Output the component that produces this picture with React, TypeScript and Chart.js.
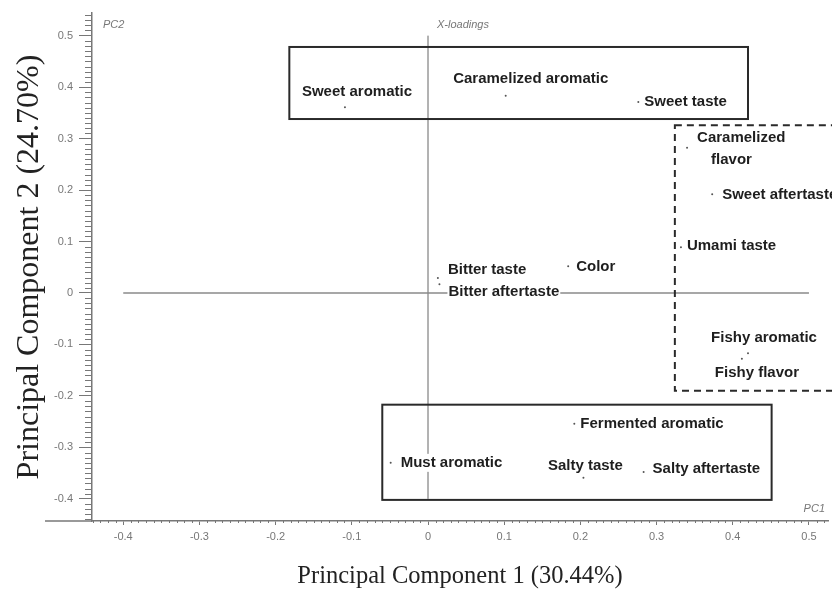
import React, { useEffect, useRef } from "react";
import { Chart, registerables } from "chart.js";

Chart.register(...registerables);

const attributes = [
  "Sweet aromatic",
  "Caramelized aromatic",
  "Sweet taste",
  "Caramelized\nflavor",
  "Sweet aftertaste",
  "Umami taste",
  "Bitter taste",
  "Bitter aftertaste",
  "Color",
  "Fishy aromatic",
  "Fishy flavor",
  "Fermented aromatic",
  "Must aromatic",
  "Salty taste",
  "Salty aftertaste",
];
const pc1Loadings = [-0.109, 0.102, 0.276, 0.34, 0.373, 0.332, 0.013, 0.015, 0.184, 0.42, 0.412, 0.192, -0.049, 0.204, 0.283];
const pc2Loadings = [0.361, 0.383, 0.371, 0.282, 0.192, 0.089, 0.029, 0.017, 0.052, -0.117, -0.128, -0.254, -0.33, -0.359, -0.348];

const xTickValues = [-0.4, -0.3, -0.2, -0.1, 0, 0.1, 0.2, 0.3, 0.4, 0.5];
const yTickValues = [-0.4, -0.3, -0.2, -0.1, 0, 0.1, 0.2, 0.3, 0.4, 0.5];

// group boxes: [xMin, xMax, yMin, yMax]
const boxTop = [-0.182, 0.42, 0.338, 0.478];
const boxRight = [0.324, 0.6, -0.19, 0.326];
const boxBottom = [-0.06, 0.451, -0.402, -0.217];

// label placement relative to each point (pixels)
const labelLayout: { dx: number; dy: number; align: CanvasTextAlign; indents?: number[] }[] = [
  { dx: 12, dy: -15, align: "center" },
  { dx: 25, dy: -17, align: "center" },
  { dx: 6, dy: 0, align: "left" },
  { dx: 10, dy: -10, align: "left", indents: [0, 14] },
  { dx: 10, dy: 1, align: "left" },
  { dx: 6, dy: -1, align: "left" },
  { dx: 10, dy: -8, align: "left" },
  { dx: 9, dy: 8, align: "left" },
  { dx: 8, dy: 1, align: "left" },
  { dx: 16, dy: -15, align: "center" },
  { dx: 15, dy: 14, align: "center" },
  { dx: 6, dy: 0, align: "left" },
  { dx: 10, dy: 0, align: "left" },
  { dx: 2, dy: -12, align: "center" },
  { dx: 9, dy: -3, align: "left" },
];

const SANS = '"Liberation Sans", Arial, sans-serif';
const SERIF = '"Liberation Serif", "Times New Roman", serif';

const decorPlugin = {
  id: "decor",
  beforeDatasetsDraw(chart: any) {
    const { ctx, chartArea, scales } = chart;
    const xs = scales.x;
    const ys = scales.y;
    ctx.save();
    ctx.strokeStyle = "#777";
    ctx.lineWidth = 1;
    // minor ticks on y axis
    for (let i = -44; i <= 54; i++) {
      if (i % 10 === 0) continue;
      const py = Math.round(ys.getPixelForValue(i / 100)) + 0.5;
      ctx.beginPath();
      ctx.moveTo(chartArea.left - 7, py);
      ctx.lineTo(chartArea.left, py);
      ctx.stroke();
    }
    // minor ticks on x axis
    for (let i = -44; i <= 53; i++) {
      if (i % 10 === 0) continue;
      const px = Math.round(xs.getPixelForValue(i / 100)) + 0.5;
      ctx.beginPath();
      ctx.moveTo(px, chartArea.bottom);
      ctx.lineTo(px, chartArea.bottom + 2);
      ctx.stroke();
    }
    // x axis stub extending left
    ctx.lineWidth = 1.5;
    ctx.beginPath();
    ctx.moveTo(45, chartArea.bottom);
    ctx.lineTo(chartArea.left, chartArea.bottom);
    ctx.stroke();

    // italic captions
    ctx.fillStyle = "#777";
    ctx.font = `italic 11px ${SANS}`;
    ctx.textBaseline = "middle";
    ctx.textAlign = "left";
    ctx.fillText("PC2", chartArea.left + 11, chartArea.top + 12);
    ctx.fillText("X-loadings", xs.getPixelForValue(0) + 9, chartArea.top + 12);
    ctx.textAlign = "right";
    ctx.fillText("PC1", chartArea.right - 3, chartArea.bottom - 12);
    ctx.restore();
  },
  afterDatasetsDraw(chart: any) {
    const { ctx, scales } = chart;
    const xs = scales.x;
    const ys = scales.y;
    ctx.save();
    ctx.font = `bold 15px ${SANS}`;
    ctx.textBaseline = "middle";
    attributes.forEach((name, i) => {
      const lay = labelLayout[i];
      const px = xs.getPixelForValue(pc1Loadings[i]) + lay.dx;
      const py = ys.getPixelForValue(pc2Loadings[i]) + lay.dy;
      const lines = name.split("\n");
      lines.forEach((line, j) => {
        const indent = lay.indents ? lay.indents[j] : 0;
        const ly = py + j * 22;
        const w = ctx.measureText(line).width;
        let left = px + indent;
        if (lay.align === "center") left -= w / 2;
        ctx.fillStyle = "#ffffff";
        ctx.fillRect(left - 1, ly - 9, w + 2, 18);
        ctx.fillStyle = "#1e1e1e";
        ctx.textAlign = "left";
        ctx.fillText(line, left, ly);
      });
    });

    const drawBox = (b: number[], dashed: boolean) => {
      const x1 = xs.getPixelForValue(b[0]);
      const x2 = xs.getPixelForValue(b[1]);
      const y1 = ys.getPixelForValue(b[3]);
      const y2 = ys.getPixelForValue(b[2]);
      ctx.strokeStyle = "#2a2a2a";
      ctx.lineWidth = 2;
      ctx.setLineDash(dashed ? [7, 5] : []);
      ctx.strokeRect(x1, y1, x2 - x1, y2 - y1);
    };
    drawBox(boxTop, false);
    drawBox(boxBottom, false);
    drawBox(boxRight, true);
    ctx.restore();
  },
};

export default function App() {
  const canvasRef = useRef<HTMLCanvasElement | null>(null);

  useEffect(() => {
    if (!canvasRef.current) return;
    const points = pc1Loadings.map((x, i) => ({ x, y: pc2Loadings[i] }));
    const chart = new Chart(canvasRef.current, {
      type: "scatter",
      data: {
        datasets: [
          {
            type: "line",
            data: [
              { x: xTickValues[0], y: 0 },
              { x: xTickValues[xTickValues.length - 1], y: 0 },
            ],
            borderColor: "#8a8a8a",
            borderWidth: 1.5,
            pointRadius: 0,
            fill: false,
          } as any,
          {
            type: "line",
            data: [
              { x: 0, y: yTickValues[0] },
              { x: 0, y: yTickValues[yTickValues.length - 1] },
            ],
            borderColor: "#666",
            borderWidth: 1,
            pointRadius: 0,
            fill: false,
          } as any,
          {
            data: points,
            pointRadius: 1,
            pointBackgroundColor: "#555",
            pointBorderWidth: 0,
          },
        ],
      },
      options: {
        responsive: false,
        animation: false,
        events: [],
        layout: { padding: { top: 13, right: 0, left: 0, bottom: 0 } },
        plugins: {
          legend: { display: false },
          tooltip: { enabled: false },
        },
        scales: {
          x: {
            type: "linear",
            min: -0.441,
            max: 0.525,
            afterBuildTicks: (scale: any) => {
              scale.ticks = xTickValues.map((v) => ({ value: v }));
            },
            afterFit: (scale: any) => {
              scale.height = 72;
            },
            border: { display: true, color: "#777", width: 1.5 },
            grid: { display: true, drawOnChartArea: false, drawTicks: true, tickLength: 4, color: "#777", tickColor: "#777" },
            ticks: {
              color: "#777",
              font: { family: SANS, size: 11 },
              padding: 5,
              maxRotation: 0,
              autoSkip: false,
              callback: (v: any) => String(Math.round(Number(v) * 10) / 10),
            },
            title: {
              display: true,
              text: "Principal Component 1 (30.44%)",
              color: "#222",
              font: { family: SERIF, size: 24.5 },
              padding: { top: 0, bottom: 2 },
            },
          },
          y: {
            type: "linear",
            min: -0.443,
            max: 0.544,
            afterBuildTicks: (scale: any) => {
              scale.ticks = yTickValues.map((v) => ({ value: v }));
            },
            afterFit: (scale: any) => {
              scale.width = 92;
            },
            border: { display: true, color: "#777", width: 1.5 },
            grid: { display: true, drawOnChartArea: false, drawTicks: true, tickLength: 13, color: "#777", tickColor: "#777" },
            ticks: {
              color: "#777",
              font: { family: SANS, size: 11 },
              padding: 6,
              autoSkip: false,
              callback: (v: any) => String(Math.round(Number(v) * 10) / 10),
            },
            title: {
              display: true,
              text: "Principal Component 2 (24.70%)",
              color: "#222",
              font: { family: SERIF, size: 32 },
              padding: { top: 10, bottom: 0 },
            },
          },
        },
      },
      plugins: [decorPlugin],
    });
    return () => chart.destroy();
  }, []);

  return (
    <div style={{ position: "absolute", left: 0, top: 0, width: 832, height: 593, background: "#fff" }}>
      <canvas ref={canvasRef} width={832} height={593} />
    </div>
  );
}
